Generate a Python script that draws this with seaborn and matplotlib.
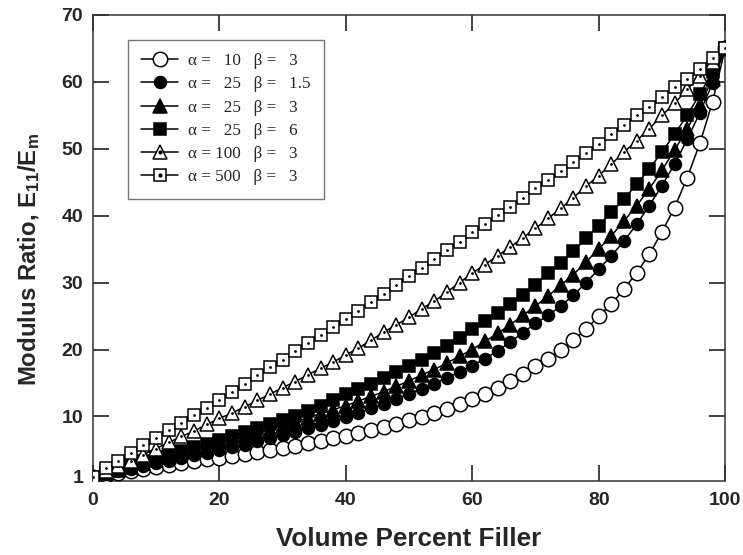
import numpy as np
import pandas as pd
import matplotlib
matplotlib.use("Agg")
import matplotlib.pyplot as plt
import seaborn as sns
from matplotlib.lines import Line2D
from matplotlib.legend_handler import HandlerTuple
from matplotlib.font_manager import FontProperties

# ---------------- data ----------------
volume_pct = list(range(0, 101, 2))

alpha_vals = [10, 25, 25, 25, 100, 500]
beta_vals = ["3", "1.5", "3", "6", "3", "3"]

y_a10_b3 = [1.0, 1.3, 1.6, 1.9, 2.2, 2.5, 2.8, 3.0, 3.3, 3.6,
            3.8, 4.1, 4.4, 4.7, 5.0, 5.3, 5.6, 6.0, 6.3, 6.7,
            7.1, 7.5, 7.9, 8.4, 8.9, 9.4, 9.9, 10.5, 11.1, 11.8,
            12.6, 13.4, 14.3, 15.3, 16.3, 17.5, 18.6, 19.9, 21.4, 23.0,
            25.0, 26.8, 29.0, 31.5, 34.2, 37.6, 41.2, 45.7, 50.8, 57.0,
            65.0]
y_a25_b15 = [1.0, 1.4, 1.8, 2.2, 2.6, 3.0, 3.4, 3.8, 4.2, 4.6,
             5.0, 5.4, 5.8, 6.3, 6.7, 7.2, 7.7, 8.2, 8.7, 9.3,
             9.9, 10.5, 11.2, 11.9, 12.6, 13.4, 14.1, 14.9, 15.8, 16.6,
             17.6, 18.6, 19.8, 21.1, 22.5, 23.9, 25.1, 26.5, 28.1, 30.0,
             32.0, 34.0, 36.2, 38.7, 41.5, 44.5, 47.7, 51.4, 55.4, 59.8,
             65.0]
y_a25_b3 = [1.0, 1.5, 2.0, 2.5, 3.0, 3.5, 4.0, 4.5, 5.0, 5.5,
            6.0, 6.5, 7.0, 7.5, 8.0, 8.6, 9.2, 9.8, 10.4, 11.0,
            11.6, 12.3, 13.0, 13.7, 14.5, 15.3, 16.2, 17.0, 18.0, 19.0,
            20.0, 21.2, 22.4, 23.7, 25.1, 26.5, 28.0, 29.6, 31.2, 33.1,
            35.0, 37.0, 39.2, 41.5, 44.0, 46.8, 49.8, 53.0, 56.5, 60.5,
            65.0]
y_a25_b6 = [1.0, 1.6, 2.2, 2.8, 3.4, 3.9, 4.4, 4.9, 5.4, 5.9,
            6.4, 7.0, 7.6, 8.2, 8.8, 9.4, 10.1, 10.8, 11.6, 12.4,
            13.3, 14.1, 14.9, 15.8, 16.7, 17.6, 18.5, 19.5, 20.5, 21.7,
            23.0, 24.2, 25.5, 26.8, 28.2, 29.7, 31.4, 33.0, 34.7, 36.6,
            38.5, 40.5, 42.5, 44.7, 47.0, 49.5, 52.2, 55.0, 58.2, 61.5,
            65.0]
y_a100_b3 = [1.0, 1.8, 2.6, 3.4, 4.3, 5.2, 6.1, 7.0, 7.8, 8.8,
             9.7, 10.5, 11.4, 12.4, 13.3, 14.3, 15.2, 16.2, 17.2, 18.1,
             19.2, 20.2, 21.4, 22.6, 23.7, 24.8, 26.1, 27.2, 28.6, 30.0,
             31.4, 32.7, 34.0, 35.3, 36.7, 38.1, 39.6, 41.1, 42.7, 44.4,
             46.0, 47.7, 49.5, 51.2, 53.0, 55.0, 56.8, 58.9, 60.9, 62.9,
             65.0]
y_a500_b3 = [1.0, 2.3, 3.4, 4.5, 5.7, 6.8, 7.9, 9.0, 10.2, 11.3,
             12.4, 13.6, 14.9, 16.2, 17.4, 18.5, 19.8, 21.0, 22.2, 23.4,
             24.6, 25.8, 27.1, 28.3, 29.6, 31.0, 32.2, 33.6, 34.9, 36.1,
             37.5, 38.7, 40.1, 41.3, 42.6, 44.1, 45.3, 46.7, 48.0, 49.4,
             50.7, 52.2, 53.5, 55.0, 56.3, 57.7, 59.2, 60.5, 62.0, 63.5,
             65.0]

series_values = [y_a10_b3, y_a25_b15, y_a25_b3, y_a25_b6, y_a100_b3, y_a500_b3]

x_ticks = [0, 20, 40, 60, 80, 100]
y_ticks = [10, 20, 30, 40, 50, 60, 70]

# ---------------- styles ----------------
styles = [
    dict(marker="o", ms=10.4, mfc="white", dot=False),
    dict(marker="o", ms=8.6, mfc="black", dot=False),
    dict(marker="^", ms=9.8, mfc="black", dot=False),
    dict(marker="s", ms=8.5, mfc="black", dot=False),
    dict(marker="^", ms=10.2, mfc="white", dot=True),
    dict(marker="s", ms=8.8, mfc="white", dot=True),
]

rows = []
for i, vals in enumerate(series_values):
    for xv, yv in zip(volume_pct, vals):
        rows.append({"x": xv, "y": yv, "series": i})
df = pd.DataFrame(rows)

sns.set_style("ticks")
plt.rcParams["font.family"] = ["Liberation Sans", "DejaVu Sans"]
plt.rcParams["font.weight"] = "bold"
plt.rcParams["axes.labelweight"] = "bold"
plt.rcParams["mathtext.fontset"] = "custom"
plt.rcParams["mathtext.rm"] = "Liberation Sans:bold"
plt.rcParams["mathtext.it"] = "Liberation Sans:bold"
plt.rcParams["mathtext.bf"] = "Liberation Sans:bold"
plt.rcParams["mathtext.default"] = "rm"

fig = plt.figure(figsize=(7.43, 5.55), dpi=100)
ax = fig.add_axes([0.125, 0.134, 0.851, 0.839])

for i, st in enumerate(styles):
    sub = df[df["series"] == i]
    sns.lineplot(data=sub, x="x", y="y", ax=ax, color="black", lw=1.1,
                 marker=st["marker"], markersize=st["ms"],
                 markerfacecolor=st["mfc"], markeredgecolor="black",
                 markeredgewidth=1.1, legend=False, zorder=3 + i,
                 errorbar=None, sort=False)
    if st["dot"]:
        sns.scatterplot(data=sub, x="x", y="y", ax=ax, color="black",
                        s=4, linewidth=0, legend=False, zorder=3.5 + i)

ax.set_xlim(0, 100)
ax.set_ylim(0.4, 70)
ax.set_xticks(x_ticks)
ax.set_xticklabels([str(t) for t in x_ticks])
ax.set_yticks(y_ticks)
ax.set_yticklabels([str(t) for t in y_ticks])
ax.set_yticks([1], minor=True)
ax.set_yticklabels(["1"], minor=True)
ax.set_xticks([], minor=True)

ax.tick_params(which="major", direction="in", length=11.5, width=1.2,
               top=True, right=True, labelsize=14, color="#222222")
ax.tick_params(axis="x", which="major", pad=8)
ax.tick_params(axis="y", which="major", pad=7)
ax.tick_params(axis="y", which="minor", length=0, labelsize=14, pad=7)
for lab in ax.get_xticklabels() + ax.get_yticklabels() + ax.get_yticklabels(minor=True):
    lab.set_fontweight("bold")

for sp in ax.spines.values():
    sp.set_visible(True)
    sp.set_linewidth(1.1)
    sp.set_color("#333333")

ax.set_xlabel("Volume Percent Filler", fontsize=18.8, fontweight="bold", labelpad=13)
ax.set_ylabel(r"Modulus Ratio, E$_{11}$/E$_{m}$", fontsize=17.3,
              fontweight="bold", labelpad=13)
ax.yaxis.set_label_coords(-0.08, 0.475)

# legend
def pad_alpha(a):
    s = str(a)
    return "\u2007" * (3 - len(s)) + s

handles, labels = [], []
for a, b, st in zip(alpha_vals, beta_vals, styles):
    ln = Line2D([], [], color="black", lw=1.1, marker=st["marker"],
                markersize=st["ms"], markerfacecolor=st["mfc"],
                markeredgecolor="black", markeredgewidth=1.1)
    if st["dot"]:
        dt = Line2D([], [], linestyle="None", marker="o", markersize=2.0,
                    color="black")
        handles.append((ln, dt))
    else:
        handles.append(ln)
    labels.append("\u03b1 = " + pad_alpha(a) + "   \u03b2 =\u2007 " + b)

leg = ax.legend(handles, labels, loc="upper left",
                bbox_to_anchor=(0.055, 0.947), borderaxespad=0,
                handler_map={tuple: HandlerTuple(ndivide=1)},
                prop=FontProperties(family=["Liberation Serif", "DejaVu Serif"],
                                    size=12.3, weight="normal"),
                frameon=True, fancybox=False, framealpha=1,
                edgecolor="#777777", handlelength=2.15, handletextpad=0.6,
                labelspacing=0.42, borderpad=0.79, numpoints=1)
leg.get_frame().set_linewidth(1.0)

fig.savefig("out.png", dpi=100)
